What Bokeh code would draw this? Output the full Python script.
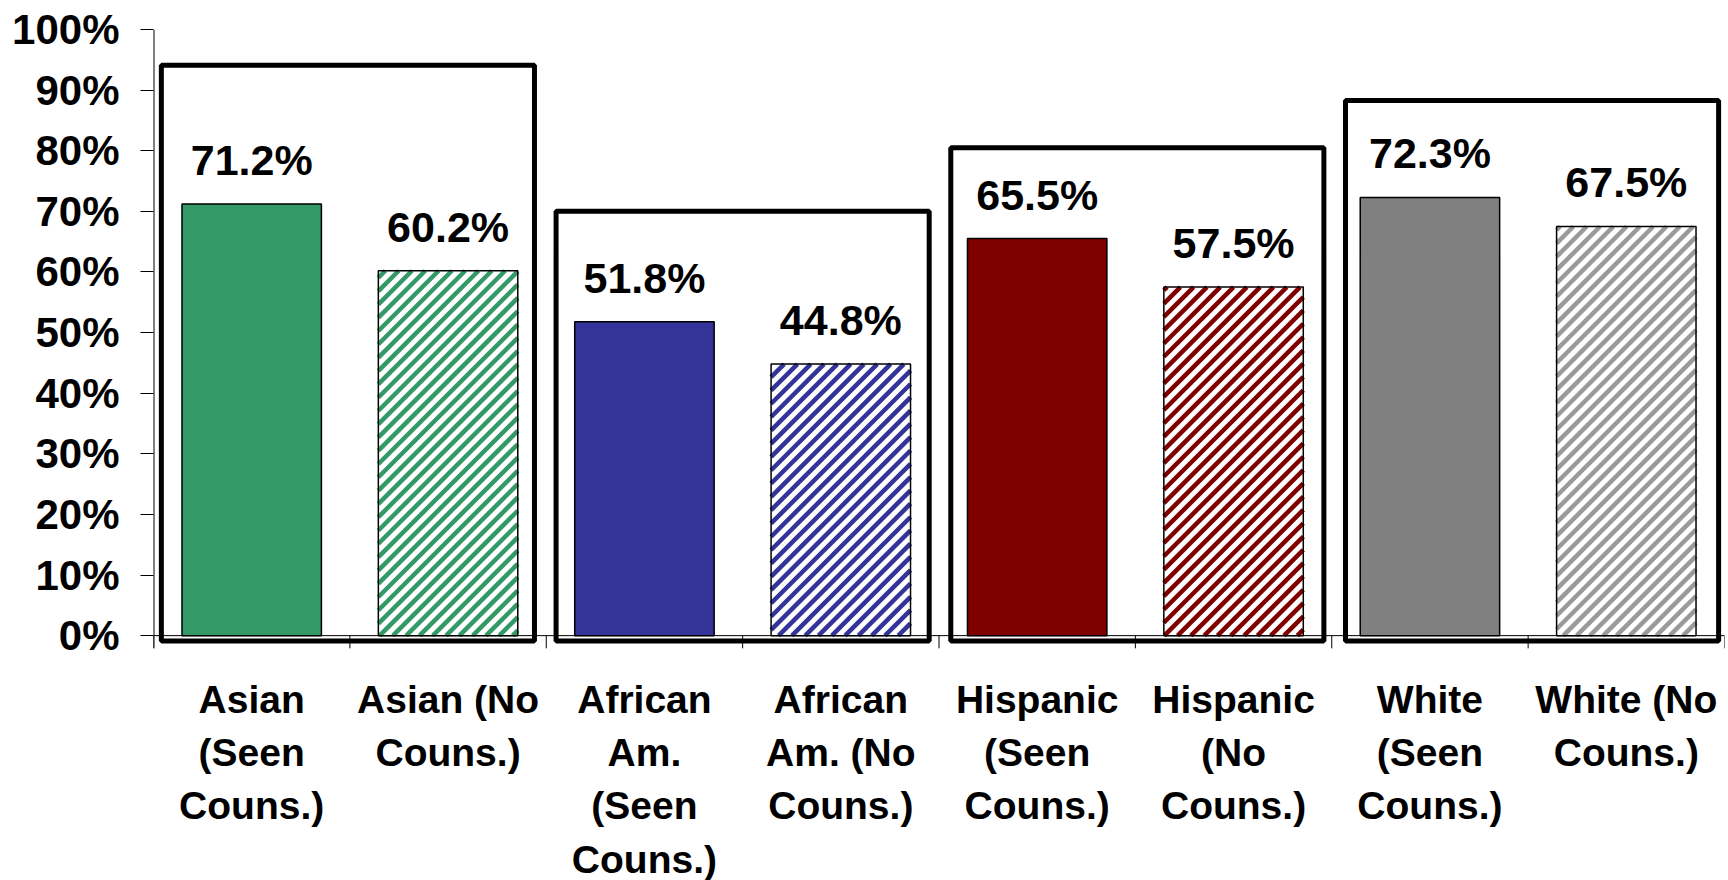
import numpy as np
from bokeh.plotting import figure
from bokeh.models import FixedTicker, Range1d, ColumnDataSource, Span
from bokeh.core.properties import value
from bokeh.embed import file_html
from bokeh.resources import INLINE

# ---- data ----
categories = [
    "Asian\n(Seen\nCouns.)", "Asian (No\nCouns.)",
    "African\nAm.\n(Seen\nCouns.)", "African\nAm. (No\nCouns.)",
    "Hispanic\n(Seen\nCouns.)", "Hispanic\n(No\nCouns.)",
    "White\n(Seen\nCouns.)", "White (No\nCouns.)",
]
values = [71.2, 60.2, 51.8, 44.8, 65.5, 57.5, 72.3, 67.5]
value_labels = ["71.2%", "60.2%", "51.8%", "44.8%", "65.5%", "57.5%", "72.3%", "67.5%"]
group_colors = ["#339966", "#333399", "#800000", "#808080"]
hatch_colors = ["#339966", "#333399", "#800000", "#9a9a9a"]
seen_flags = [True, False, True, False, True, False, True, False]
box_tops = [94.1, 70.0, 80.5, 88.3]
y_ticks = [0, 10, 20, 30, 40, 50, 60, 70, 80, 90, 100]
y_tick_labels = ["0%", "10%", "20%", "30%", "40%", "50%", "60%", "70%", "80%", "90%", "100%"]

FONT = "Liberation Sans"
W, H = 1728, 880
BORDER_L, BORDER_T, BORDER_R = 153, 29, 4
X_END = 8.0
Y_BOTTOM = -40.4   # frame extends to the page bottom so the category texts fit
TICK_LEN = -2.1
BAR_W = 0.71

centers = [i + 0.5 for i in range(len(categories))]
boundaries = list(range(len(categories) + 1))

p = figure(width=W, height=H,
           x_range=Range1d(0, X_END), y_range=Range1d(Y_BOTTOM, 100),
           output_backend="svg", toolbar_location=None,
           x_axis_location=None,
           min_border_left=BORDER_L, min_border_top=BORDER_T, min_border_right=BORDER_R,
           min_border_bottom=0)
p.outline_line_color = None
p.xgrid.visible = False
p.ygrid.visible = False
p.background_fill_color = "white"
p.border_fill_color = "white"

# pixels per data unit (for 45-degree hatch stripes)
sx = (W - BORDER_L - BORDER_R) / X_END
sy = (H - BORDER_T) / (100 - Y_BOTTOM)

# solid bars
solid = ColumnDataSource(dict(
    x=[c for c, s in zip(centers, seen_flags) if s],
    top=[v for v, s in zip(values, seen_flags) if s],
    color=group_colors,
))
p.vbar(x="x", top="top", bottom=0, width=BAR_W, source=solid,
       fill_color="color", line_color="black", line_width=1.5)

# hatched bars: white fill, diagonal stripes, then outline
hx = [c for c, s in zip(centers, seen_flags) if not s]
htop = [v for v, s in zip(values, seen_flags) if not s]
p.vbar(x=hx, top=htop, bottom=0, width=BAR_W, fill_color="white", line_color=None)

PERIOD = 13.3  # px, horizontal stripe spacing
sx0, sy0, sx1, sy1, scol = [], [], [], [], []
for c, v, col in zip(hx, htop, hatch_colors):
    xl, xr = (c - BAR_W / 2) * sx, (c + BAR_W / 2) * sx
    yb, yt = 0.0, v * sy
    k_start = np.floor((xl - yt) / PERIOD) * PERIOD
    for k in np.arange(k_start, xr - yb + PERIOD, PERIOD):
        a = max(xl, k + yb)
        b = min(xr, k + yt)
        if b - a > 0.5:
            sx0.append(a / sx); sy0.append((a - k) / sy)
            sx1.append(b / sx); sy1.append((b - k) / sy)
            scol.append(col)
p.segment(x0=sx0, y0=sy0, x1=sx1, y1=sy1, line_color=scol, line_width=4.5)
p.vbar(x=hx, top=htop, bottom=0, width=BAR_W, fill_color=None,
       line_color="black", line_width=1.5)

# x axis line at y = 0 and category-boundary ticks below it
p.add_layout(Span(location=0, dimension="width", line_color="black", line_width=1))
p.segment(x0=boundaries, y0=[0] * len(boundaries), x1=boundaries,
          y1=[TICK_LEN] * len(boundaries), line_color="black", line_width=1)
# y axis line (0% .. 100%, slightly below 0)
p.segment(x0=[0], y0=[TICK_LEN], x1=[0], y1=[100], line_color="black", line_width=2)

# group boxes
n_groups = len(box_tops)
p.quad(left=[2 * i + 0.04 + 0.01 * i for i in range(n_groups)],
       right=[2 * i + 1.94 + 0.01 * i for i in range(n_groups)],
       bottom=[-0.9] * n_groups, top=box_tops,
       fill_color=None, line_color="black", line_width=5)

# value labels
p.text(x=centers, y=values, text=value_labels,
       text_align="center", text_baseline="alphabetic", y_offset=-44,
       text_font=value(FONT), text_font_style="bold", text_font_size="43px",
       text_color="black")

# category labels under the axis
p.text(x=centers, y=[0] * len(centers), text=categories,
       text_align="center", text_baseline="top", y_offset=42,
       text_font=value(FONT), text_font_style="bold", text_font_size="39px",
       text_line_height=1.24, text_color="black")

# y axis
p.yaxis.ticker = FixedTicker(ticks=y_ticks)
p.yaxis.major_label_overrides = dict(zip(y_ticks, y_tick_labels))
p.yaxis.major_label_text_font = FONT
p.yaxis.major_label_text_font_style = "bold"
p.yaxis.major_label_text_font_size = "42px"
p.yaxis.major_label_text_color = "black"
p.yaxis.major_tick_out = 13
p.yaxis.major_tick_in = 0
p.yaxis.minor_tick_out = 0
p.yaxis.minor_tick_in = 0
p.yaxis.major_label_standoff = 21
p.yaxis.axis_line_color = None
p.yaxis.major_tick_line_color = "black"

open("out.html", "w").write(file_html(p, INLINE))
